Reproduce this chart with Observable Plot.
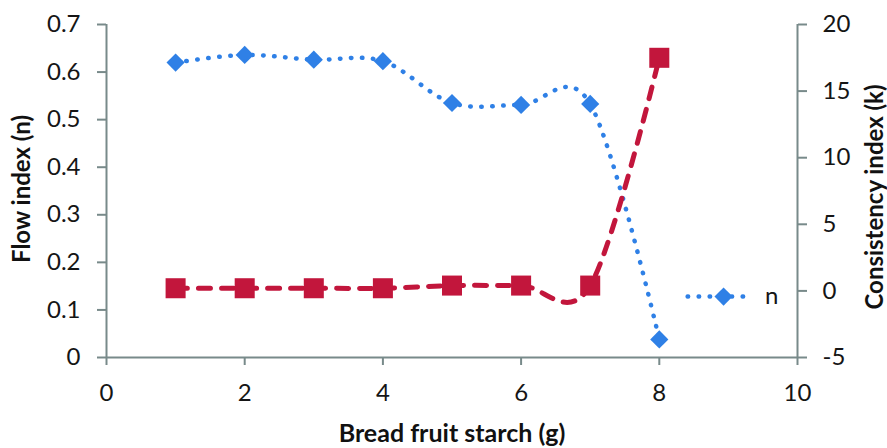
<!DOCTYPE html>
<html>
<head>
<meta charset="utf-8">
<script src="https://cdn.jsdelivr.net/npm/d3@7"></script>
<script src="https://cdn.jsdelivr.net/npm/@observablehq/plot@0.6"></script>
<style>
  html, body { margin: 0; padding: 0; background: #fff; }
</style>
</head>
<body>
<div id="chart"></div>
<script>
// Data
const starch = [1, 2, 3, 4, 5, 6, 7, 8];
const flowIndex = [0.620, 0.636, 0.626, 0.623, 0.535, 0.531, 0.533, 0.038];
const consistency = [0.2, 0.2, 0.2, 0.2, 0.4, 0.4, 0.4, 17.5];

const xTicks = [0, 2, 4, 6, 8, 10];
const nTicks = [0, 0.1, 0.2, 0.3, 0.4, 0.5, 0.6, 0.7];
const kTicks = [-5, 0, 5, 10, 15, 20];

// Legend (series "n")
const legendLineX = [8.41, 9.33];
const legendMarkerX = [8.93];
const legendLabelX = [9.53];
const legendY = 0.128;
const legendLabel = "n";

const nDomain = [0, 0.7];
const kDomain = [-5, 20];
const kToN = k => (k - kDomain[0]) / (kDomain[1] - kDomain[0]) * (nDomain[1] - nDomain[0]) + nDomain[0];
const nToK = n => (n - nDomain[0]) / (nDomain[1] - nDomain[0]) * (kDomain[1] - kDomain[0]) + kDomain[0];

const nData = starch.map((x, i) => ({x, n: flowIndex[i]}));
const kData = starch.map((x, i) => ({x, k: consistency[i], kn: kToN(consistency[i])}));

const axisColor = "#788a8a";
const blue = "#2f80e6";
const red = "#c2163c";
const textColor = "#151515";

const chart = Plot.plot({
  width: 887,
  height: 448,
  marginLeft: 106,
  marginRight: 90,
  marginTop: 24,
  marginBottom: 91,
  style: {fontFamily: "Lato, 'Open Sans', sans-serif", fontSize: "24px", color: textColor, background: "#fff"},
  x: {domain: [0, 10]},
  y: {domain: nDomain},
  marks: [
    Plot.axisX({ticks: xTicks, tickSize: 8, tickPadding: 18, stroke: axisColor, strokeWidth: 2, label: null, tickFormat: d => String(d)}),
    Plot.axisY({ticks: nTicks, tickSize: 9, tickPadding: 17, stroke: axisColor, strokeWidth: 2, label: null,
      tickFormat: d => d === 0 ? "0" : d.toFixed(1)}),
    Plot.axisY({anchor: "right", ticks: kTicks.map(kToN), tickSize: 9, tickPadding: 16, stroke: axisColor, strokeWidth: 2, label: null,
      tickFormat: v => String(Math.round(nToK(v)))}),
    Plot.ruleY([0], {stroke: axisColor, strokeWidth: 2}),
    Plot.ruleX([0], {stroke: axisColor, strokeWidth: 2}),
    Plot.ruleX([10], {stroke: axisColor, strokeWidth: 2}),
    // n series
    Plot.line(nData, {x: "x", y: "n", curve: "cardinal", stroke: blue, strokeWidth: 4.5,
      strokeDasharray: "0.5 10.5", strokeLinecap: "round"}),
    Plot.dot(nData, {x: "x", y: "n", symbol: "diamond2", r: 8.2, fill: blue, stroke: "none"}),
    // k series
    Plot.line(kData, {x: "x", y: "kn", curve: "cardinal", stroke: red, strokeWidth: 5,
      strokeDasharray: "12 11", strokeLinecap: "round"}),
    Plot.dot(kData, {x: "x", y: "kn", symbol: "square", r: 11.3, fill: red, stroke: "none"}),
    // legend
    Plot.line(legendLineX.map(x => ({x, y: legendY})), {x: "x", y: "y", stroke: blue, strokeWidth: 4.5,
      strokeDasharray: "0.5 10.5", strokeLinecap: "round"}),
    Plot.dot(legendMarkerX.map(x => ({x, y: legendY})), {x: "x", y: "y", symbol: "diamond2", r: 8.2, fill: blue}),
    Plot.text([legendLabel], {x: legendLabelX[0], y: legendY, textAnchor: "start", fontSize: 24, fill: textColor}),
    // axis titles
    Plot.text(["Flow index (n)"], {frameAnchor: "left", textAnchor: "middle", lineAnchor: "middle", rotate: -90, dx: -84, dy: -2, fontWeight: "bold", fontSize: 24, fill: "#111"}),
    Plot.text(["Consistency index (k)"], {frameAnchor: "right", textAnchor: "middle", lineAnchor: "middle", rotate: -90, dx: 78, dy: 6, fontWeight: "bold", fontSize: 24, fill: "#111"}),
    Plot.text(["Bread fruit starch (g)"], {frameAnchor: "bottom", dy: 84, fontWeight: "bold", fontSize: 25, fill: "#111"})
  ]
});

document.getElementById("chart").append(chart);
</script>
</body>
</html>
